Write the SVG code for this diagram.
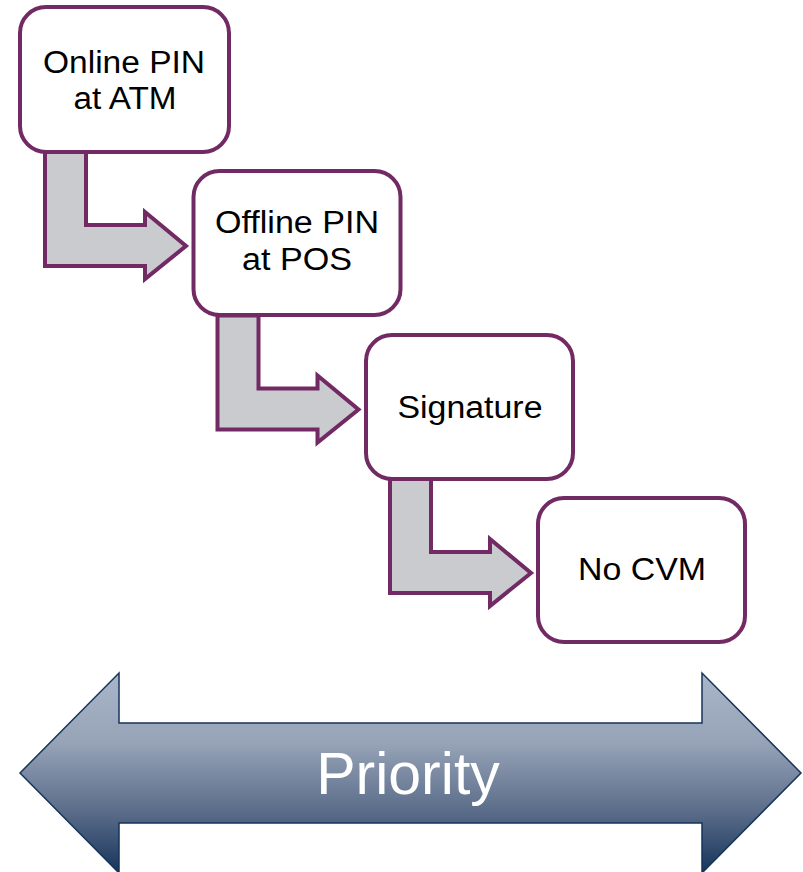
<svg xmlns="http://www.w3.org/2000/svg" width="803" height="872" viewBox="0 0 803 872">
  <style>
    .box { fill: #ffffff; stroke: #722a64; stroke-width: 4; }
    .bend { fill: #c9cbce; stroke: #722a64; stroke-width: 4; stroke-linejoin: miter; }
    .label { font-family: "Liberation Sans", Arial, sans-serif; font-size: 31px; fill: #000000; text-anchor: middle; }
    .prio { font-family: "Liberation Sans", Arial, sans-serif; font-size: 59px; fill: #ffffff; text-anchor: middle; }
  </style>
  <defs>
    <linearGradient id="prioGrad" gradientUnits="userSpaceOnUse" x1="0" y1="672" x2="0" y2="872">
      <stop offset="0" stop-color="#a9b5c8"/>
      <stop offset="0.35" stop-color="#97a4b8"/>
      <stop offset="0.7" stop-color="#5a6c89"/>
      <stop offset="1" stop-color="#17355c"/>
    </linearGradient>
    <!-- bent arrow shape, placed once per step -->
    <path id="bentArrow" d="M45,152 L86,152 L86,225 L145,225 L145,212 L186,246 L145,279 L145,266 L45,266 Z"/>
  </defs>

  <!-- connectors between steps -->
  <g id="connectors">
    <use href="#bentArrow" class="bend"/>
    <use href="#bentArrow" class="bend" transform="translate(172.5,163.5)"/>
    <use href="#bentArrow" class="bend" transform="translate(345,327)"/>
  </g>

  <g id="online-pin">
    <rect class="box" x="20" y="7" width="209" height="145" rx="26"/>
    <text class="label" x="124" y="73" textLength="162" lengthAdjust="spacingAndGlyphs">Online PIN</text>
    <text class="label" x="125" y="109" textLength="103" lengthAdjust="spacingAndGlyphs">at ATM</text>
  </g>

  <g id="offline-pin">
    <rect class="box" x="193.5" y="171" width="207" height="144" rx="26"/>
    <text class="label" x="297" y="233" textLength="164" lengthAdjust="spacingAndGlyphs">Offline PIN</text>
    <text class="label" x="297" y="270" textLength="110" lengthAdjust="spacingAndGlyphs">at POS</text>
  </g>

  <g id="signature">
    <rect class="box" x="366" y="335" width="207" height="144" rx="26"/>
    <text class="label" x="470" y="418" textLength="145" lengthAdjust="spacingAndGlyphs">Signature</text>
  </g>

  <g id="no-cvm">
    <rect class="box" x="538" y="498" width="207" height="144" rx="26"/>
    <text class="label" x="642" y="580" textLength="128" lengthAdjust="spacingAndGlyphs">No CVM</text>
  </g>

  <!-- double-headed priority arrow -->
  <g id="priority">
    <path d="M20,773 L119,673 L119,723 L702,723 L702,673 L801,773 L702,873 L702,823 L119,823 L119,873 Z" fill="url(#prioGrad)" stroke="#15355a" stroke-width="1.5"/>
    <text class="prio" x="408" y="794">Priority</text>
  </g>
</svg>
